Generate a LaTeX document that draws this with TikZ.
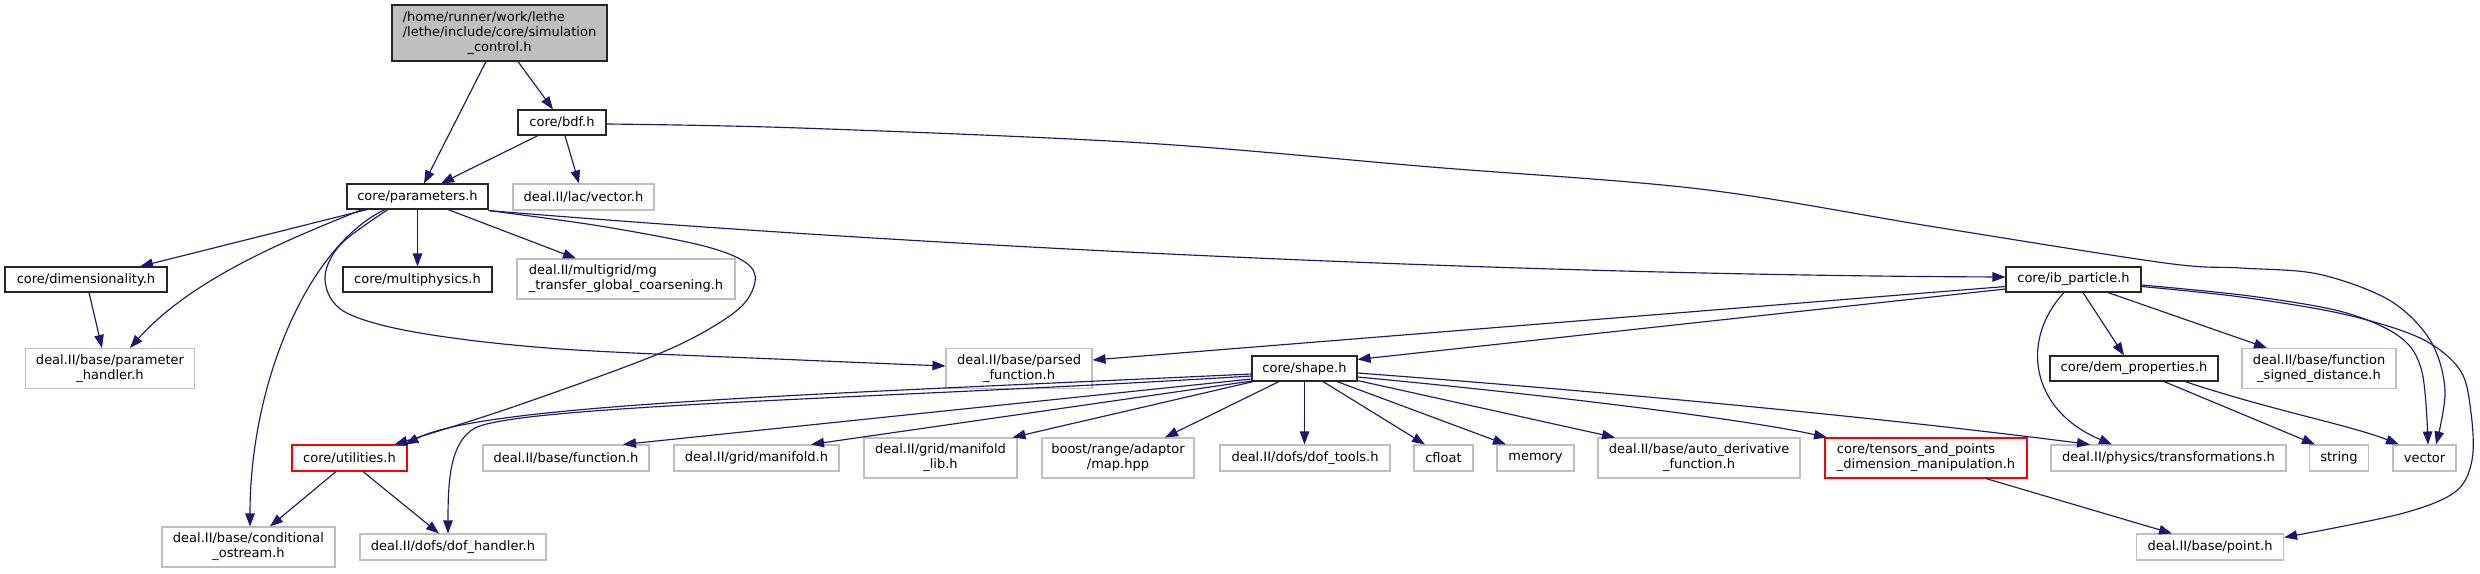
\documentclass[tikz,border=0pt]{standalone}
\usepackage{fontspec}
\setmainfont{DejaVu Sans}
\usetikzlibrary{arrows.meta,calc}
\definecolor{edgeblue}{HTML}{191970}
\definecolor{maingray}{HTML}{BFBFBF}
\definecolor{extgray}{HTML}{BFBFBF}
\newcommand{\twol}[2]{\begin{tabular}{@{}l@{}}#1\\\multicolumn{1}{@{}c@{}}{#2}\end{tabular}}
\begin{document}
\begin{tikzpicture}[x=1pt,y=-1pt,
  box/.style={rectangle, inner sep=0pt, line width=1.1pt, font=\fontsize{13}{15}\selectfont, fill=white},
  docbox/.style={box, draw=black!85},
  extbox/.style={box, draw=extgray, line width=1.1pt},
  redbox/.style={box, draw=red},
  sz/.style 2 args={minimum width=#1pt, minimum height=#2pt},
  edge/.style={draw=edgeblue, line width=1.15pt, -{Triangle[length=13pt,width=9.5pt]}},
]
\useasboundingbox (0,0) rectangle (2480,573);

% nodes
\node[docbox, fill=maingray, sz={215}{56}] (main) at (499.5,33)
  {\begin{tabular}{@{}l@{}}/home/runner/work/lethe\\/lethe/include/core/simulation\\\multicolumn{1}{@{}c@{}}{\_control.h}\end{tabular}};
\node[docbox, sz={88}{25}] (bdf) at (562,122.5) {core/bdf.h};
\node[docbox, sz={141}{25}] (params) at (417.5,196.5) {core/parameters.h};
\node[extbox, sz={141}{26}] (lacvec) at (583.5,197) {deal.II/lac/vector.h};
\node[docbox, sz={162}{25}] (dim) at (86,279.5) {core/dimensionality.h};
\node[docbox, sz={149}{25}] (multi) at (417.5,279.5) {core/multiphysics.h};
\node[extbox, sz={218}{40}] (mg) at (626,279) {\twol{deal.II/multigrid/mg}{\_transfer\_global\_coarsening.h}};
\node[extbox, sz={169}{40}] (phandler) at (110,368.5) {\twol{deal.II/base/parameter}{\_handler.h}};
\node[extbox, sz={146}{40}] (parsed) at (1019,368.5) {\twol{deal.II/base/parsed}{\_function.h}};
\node[docbox, sz={105}{25}] (shape) at (1304.5,368.5) {core/shape.h};
\node[docbox, sz={135}{25}] (ib) at (2073.5,279.5) {core/ib\_particle.h};
\node[docbox, sz={168}{25}] (dem) at (2134,368.5) {core/dem\_properties.h};
\node[extbox, sz={154}{40}] (fsd) at (2319,368.5) {\twol{deal.II/base/function}{\_signed\_distance.h}};
\node[redbox, sz={115}{26}] (util) at (349.5,458) {core/utilities.h};
\node[extbox, sz={166}{26}] (func) at (566,458) {deal.II/base/function.h};
\node[extbox, sz={165}{26}] (manif) at (756.5,458) {deal.II/grid/manifold.h};
\node[extbox, sz={153}{40}] (maniflib) at (940.5,458) {\twol{deal.II/grid/manifold}{\_lib.h}};
\node[extbox, sz={152}{40}] (boost) at (1118,458) {\twol{boost/range/adaptor}{/map.hpp}};
\node[extbox, sz={170}{26}] (doftools) at (1305,458) {deal.II/dofs/dof\_tools.h};
\node[extbox, sz={59}{26}] (cfloat) at (1443.5,458) {cfloat};
\node[extbox, sz={77}{26}] (memory) at (1535.5,458) {memory};
\node[extbox, sz={202}{40}] (autod) at (1699,458) {\twol{deal.II/base/auto\_derivative}{\_function.h}};
\node[redbox, sz={202}{40}] (tensors) at (1926,458) {\twol{core/tensors\_and\_points}{\_dimension\_manipulation.h}};
\node[extbox, sz={235}{26}] (trans) at (2168.5,458) {deal.II/physics/transformations.h};
\node[extbox, sz={59}{26}] (string) at (2339,458) {string};
\node[extbox, sz={63}{26}] (vector) at (2424.5,458) {vector};
\node[extbox, sz={173}{40}] (condo) at (248.5,547) {\twol{deal.II/base/conditional}{\_ostream.h}};
\node[extbox, sz={186}{26}] (dofh) at (453,547) {deal.II/dofs/dof\_handler.h};
\node[extbox, sz={147}{26}] (point) at (2210,547) {deal.II/base/point.h};

% edges from main
\draw[edge] ($(main.south)+(-13.5,0)$) -- ($(params.north)+(6.5,0)$);
\draw[edge] ($(main.south)+(18.5,0)$) -- ($(bdf.north)+(-9,0)$);
% edges from bdf
\draw[edge] ($(bdf.south)+(-24,0)$) -- ($(params.north)+(23.5,0)$);
\draw[edge] ($(bdf.south)+(3,0)$) -- ($(lacvec.north)+(-4.5,0)$);
\draw[edge] plot[smooth, tension=0.55] coordinates {($(bdf.east)+(0,1.5)$) (800,128) (1144,143) (1431,167) (1700,189) (1935,227) (2165,263) (2241,268) (2318,274) (2389,300) (2430,340) (2445,390) ($(vector.north)+(11.5,0)$)};
% edges from params
\draw[edge] ($(params.south)+(-50.5,0)$) -- ($(dim.north)+(54,0)$);
\draw[edge] ($(params.south)+(-55.5,0)$) .. controls (300,235) and (195,275) .. ($(phandler.north)+(20,0)$);
\draw[edge] ($(params.south)+(-32.5,0)$) .. controls (310,245) and (250,380) .. ($(condo.north)+(1.5,0)$);
\draw[edge] plot[smooth, tension=0.55] coordinates {($(params.south)+(-29.5,0)$) (340,245) (325,280) (345,312) (420,333) (561,349) (800,360) ($(parsed.west)+(0,-2.5)$)};
\draw[edge] (params.south) -- (multi.north);
\draw[edge] ($(params.south)+(30.5,0)$) -- ($(mg.north)+(-50,0)$);
\draw[edge] plot[smooth, tension=0.55] coordinates {($(params.south east)+(0,1)$) (600,226) (700,245) (745,262) (755,282) (735,312) (663,352) (510,408) ($(util.north)+(45,0)$)};
\draw[edge] ($(params.south east)+(0,1)$) .. controls (900,245) and (1500,275) .. ($(ib.west)+(0,-2.5)$);
% edges from dim
\draw[edge] ($(dim.south)+(3,0)$) -- ($(phandler.north)+(-8,0)$);
% edges from util
\draw[edge] ($(util.south)+(-13.5,0)$) -- ($(condo.north)+(21.5,0)$);
\draw[edge] ($(util.south)+(13.5,0)$) -- ($(dofh.north)+(-14,0)$);
% edges from shape
\draw[edge] ($(shape.west)+(0,5.5)$) .. controls (800,395) and (480,405) .. ($(util.north)+(56,0)$);
\draw[edge] ($(shape.west)+(0,7.5)$) .. controls (900,398) and (520,405) .. (475,428) .. controls (450,442) and (448,480) .. ($(dofh.north)+(-5,0)$);
\draw[edge] ($(shape.west)+(0,10.5)$) -- ($(func.north)+(57,0)$);
\draw[edge] ($(shape.south west)+(0,-0.5)$) -- ($(manif.north)+(54.5,0)$);
\draw[edge] ($(shape.south west)+(2,0)$) -- ($(maniflib.north)+(72,0)$);
\draw[edge] ($(shape.south)+(-25.5,0)$) -- ($(boost.north)+(47,0)$);
\draw[edge] (shape.south) -- ($(doftools.north)+(-0.5,0)$);
\draw[edge] ($(shape.south)+(18.5,0)$) -- ($(cfloat.north)+(-18.5,0)$);
\draw[edge] ($(shape.south)+(32.5,0)$) -- ($(memory.north)+(-29.5,0)$);
\draw[edge] ($(shape.south east)+(0,-1)$) -- ($(autod.north)+(-84,0)$);
\draw[edge] ($(shape.east)+(0,8.5)$) .. controls (1550,395) and (1750,420) .. ($(tensors.north)+(-99,0)$);
\draw[edge] ($(shape.east)+(0,4.5)$) .. controls (1650,395) and (1900,420) .. ($(trans.north)+(-78.5,0)$);
% edges from ib
\draw[edge] ($(ib.west)+(0,7)$) -- ($(parsed.east)+(0,-8.5)$);
\draw[edge] ($(ib.west)+(0,9.5)$) -- ($(shape.north east)+(0,4)$);
\draw[edge] ($(ib.south)+(-9.5,0)$) .. controls (2020,340) and (2030,410) .. ($(trans.north)+(-56.5,0)$);
\draw[edge] ($(ib.south)+(9.5,0)$) -- ($(dem.north)+(-10,0)$);
\draw[edge] ($(ib.south)+(34.5,0)$) -- ($(fsd.north)+(-52,0)$);
\draw[edge] plot[smooth, tension=0.55] coordinates {($(ib.east)+(0,5.5)$) (2250,296) (2343,312) (2400,337) (2422,372) ($(vector.north)+(3.5,0)$)};
\draw[edge] plot[smooth, tension=0.55] coordinates {($(ib.east)+(0,7)$) (2241,297) (2343,314) (2420,338) (2460,370) (2471,413) (2472,460) (2455,492) (2400,514) ($(point.north east)+(0,4)$)};
% edges from dem
\draw[edge] ($(dem.south)+(30,0)$) -- ($(string.north)+(-24,0)$);
\draw[edge] ($(dem.south)+(51,0)$) .. controls (2270,410) and (2350,425) .. ($(vector.north)+(-25.5,0)$);
% edges from tensors
\draw[edge] ($(tensors.south)+(60,0)$) -- ($(point.north)+(-38,0)$);
\end{tikzpicture}
\end{document}
